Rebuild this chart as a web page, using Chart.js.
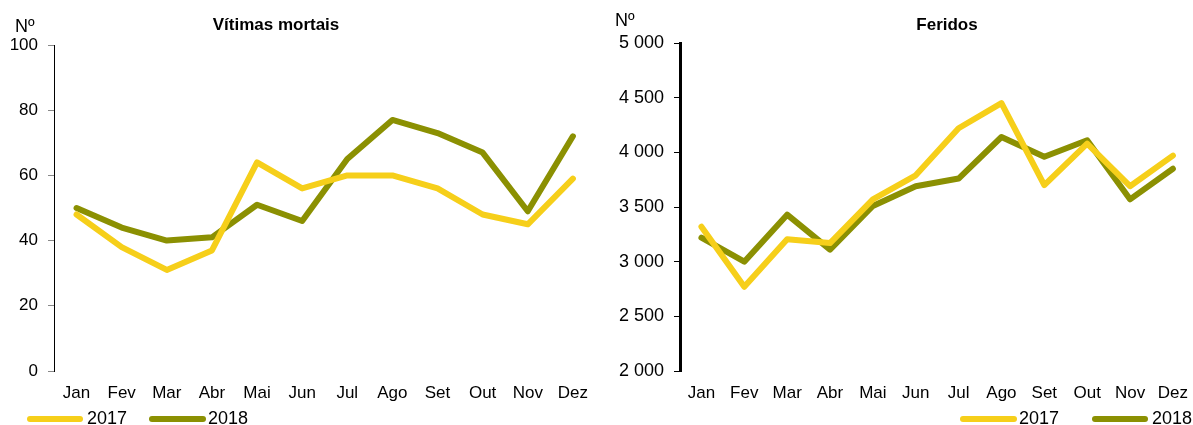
<!DOCTYPE html>
<html>
<head>
<meta charset="utf-8">
<script src="https://cdn.jsdelivr.net/npm/chart.js@4/dist/chart.umd.min.js"></script>
<style>
  html, body { margin: 0; padding: 0; background: #fff; }
  body { width: 1193px; height: 425px; position: relative; overflow: hidden;
         font-family: 'Liberation Sans', Arial, sans-serif; color: #000; }
  .abs { position: absolute; line-height: 1; white-space: nowrap; }
  .title { font-weight: bold; font-size: 17px; transform: translateX(-50%); }
  .unit { font-size: 18px; }
  .leg { font-size: 18px; }
  .lline { position: absolute; height: 6px; border-radius: 3px; }
  #c1wrap { position: absolute; left: 0; top: 0; width: 600px; height: 425px; }
  #c2wrap { position: absolute; left: 600px; top: 0; width: 600px; height: 425px; }
</style>
</head>
<body>
<div id="c1wrap"><canvas id="c1"></canvas></div>
<div id="c2wrap"><canvas id="c2"></canvas></div>

<div class="abs unit" style="left:15px; top:17px;">Nº</div>
<div class="abs title" style="left:276px; top:16px;">Vítimas mortais</div>
<div class="abs unit" style="left:615px; top:11px;">Nº</div>
<div class="abs title" style="left:947px; top:16px;">Feridos</div>

<div class="lline" style="left:27px; top:416px; width:56px; background:#F6CF1A;"></div>
<div class="abs leg" style="left:87px; top:409px;">2017</div>
<div class="lline" style="left:149px; top:416px; width:57px; background:#8B9002;"></div>
<div class="abs leg" style="left:208px; top:409px;">2018</div>

<div class="lline" style="left:960px; top:416px; width:57px; background:#F6CF1A;"></div>
<div class="abs leg" style="left:1019px; top:409px;">2017</div>
<div class="lline" style="left:1092px; top:416px; width:56px; background:#8B9002;"></div>
<div class="abs leg" style="left:1152px; top:409px;">2018</div>

<script>
const months = ['Jan','Fev','Mar','Abr','Mai','Jun','Jul','Ago','Set','Out','Nov','Dez'];
const series = ['2017', '2018'];
const mortais2017 = [48, 38, 31, 37, 64, 56, 60, 60, 56, 48, 45, 59];
const mortais2018 = [50, 44, 40, 41, 51, 46, 65, 77, 73, 67, 49, 72];
const feridos2017 = [3320, 2770, 3205, 3170, 3570, 3790, 4220, 4450, 3700, 4080, 3690, 3970];
const feridos2018 = [3220, 3000, 3430, 3110, 3510, 3690, 3760, 4140, 3960, 4110, 3570, 3850];
const colors = ['#F6CF1A', '#8B9002'];

Chart.defaults.font.family = "'Liberation Sans', Arial, sans-serif";
Chart.defaults.color = '#000';

function fmt(v) {
  return String(v).replace(/\B(?=(\d{3})+(?!\d))/g, ' ');
}

function makeChart(id, d1, d2, yMin, yMax, step, yWidth, top, axisW, tickCol, ySize) {
  return new Chart(document.getElementById(id), {
    type: 'line',
    data: {
      labels: months,
      datasets: [
        { label: series[0], data: d1, borderColor: colors[0], backgroundColor: colors[0],
          borderWidth: 6, pointRadius: 0, tension: 0, borderJoinStyle: 'round', borderCapStyle: 'round' },
        { label: series[1], data: d2, borderColor: colors[1], backgroundColor: colors[1],
          borderWidth: 6, pointRadius: 0, tension: 0, borderJoinStyle: 'round', borderCapStyle: 'round' }
      ]
    },
    options: {
      responsive: true,
      maintainAspectRatio: false,
      animation: false,
      events: [],
      layout: { padding: { top: top, bottom: 24, left: 0, right: 0 } },
      plugins: { legend: { display: false }, title: { display: false }, tooltip: { enabled: false } },
      scales: {
        x: {
          offset: true,
          grid: { display: false, drawTicks: false },
          border: { display: false },
          ticks: { font: { size: 17 }, padding: 12, maxRotation: 0, autoSkip: false },
          afterFit: s => { s.height = 30; }
        },
        y: {
          min: yMin, max: yMax,
          grid: { drawOnChartArea: false, drawTicks: true, tickLength: 6, color: tickCol, lineWidth: 1 },
          border: { display: true, color: '#000', width: axisW },
          ticks: { stepSize: step, font: { size: ySize }, padding: 10, callback: v => fmt(v) },
          afterFit: s => { s.width = yWidth; }
        }
      }
    }
  });
}

makeChart('c1', mortais2017, mortais2018, 0, 100, 20, 54, 45, 1, '#888', 17);
makeChart('c2', feridos2017, feridos2018, 2000, 5000, 500, 80, 43, 3, '#000', 18);
</script>
</body>
</html>
